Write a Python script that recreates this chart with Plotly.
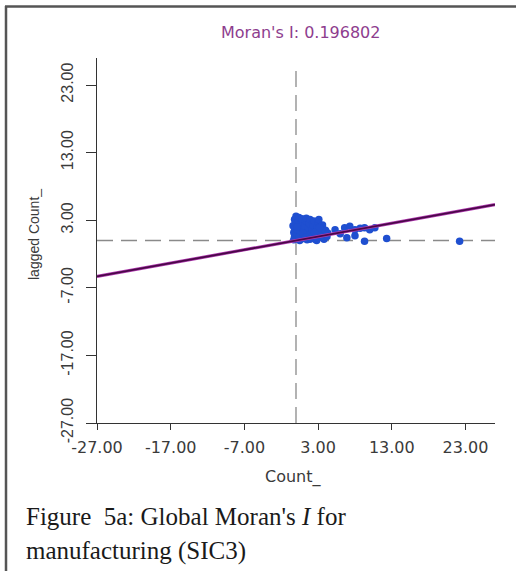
import plotly.graph_objects as go

# ---- data ----
moran_i = 0.196802
x_ticks = [-27, -17, -7, 3, 13, 23]
y_ticks = [-27, -17, -7, 3, 13, 23]
axis_range = [-27, 27]

cluster_x = [-0.3, -0.2, -0.3, -0.2, -0.1, -0.2, 0.0, 0.1, 0.2, 0.2, 0.3, 0.3, 0.4, 0.5, 0.6, 0.6,
             0.7, 0.8, 0.8, 1.0, 1.0, 1.1, 1.2, 1.3, 1.4, 1.5, 1.6, 1.6, 1.7, 1.8, 1.9, 2.0, 2.1,
             2.2, 2.3, 2.4, 2.6, 2.7, 2.8, 2.9, 3.0, 3.1, 3.3, 3.4, 3.5, 3.6, 3.8, 3.9, 4.0, 4.2,
             4.3, 0.4, 0.9, 1.3, 2.5, 3.2, -0.4, 0.1, 1.9, 2.8]
cluster_y = [0.1, 0.6, 1.2, 1.8, 2.5, 3.1, 3.6, 0.3, 0.9, 1.5, 2.1, 2.8, 3.4, 0.0, 0.6, 1.2,
             1.9, 2.6, 3.2, 0.3, 0.9, 1.5, 2.2, 2.9, 3.3, 0.1, 0.7, 1.3, 1.9, 2.5, 3.1, 0.4, 1.0,
             1.6, 2.3, 2.9, 0.2, 0.8, 1.4, 2.0, 2.7, 3.1, 0.5, 1.1, 1.7, 2.3, 0.2, 0.9, 1.5, 0.6,
             1.1, 0.5, 1.1, 0.5, 1.2, 1.9, 2.2, 2.0, 0.2, 0.0]
outer_x = [5.3, 6.0, 6.6, 7.3, 8.0, 8.7, 9.3, 10.0, 10.7, 6.9, 8.0, 9.3, 12.3, 22.2]
outer_y = [1.6, 1.0, 1.9, 2.1, 1.6, 1.8, 1.9, 1.6, 1.9, 0.4, 0.7, -0.1, 0.3, -0.1]

xs = cluster_x + outer_x
ys = cluster_y + outer_y

# plot-area geometry (pixels) used to place paper-referenced text
L, R, T, B = 97, 495, 58, 423
W, H = R - L, B - T


def px(x):
    return (x - L) / W


def py(y):
    return (B - y) / H


fig = go.Figure()

# mean reference lines
fig.add_trace(go.Scatter(x=[0, 0], y=[-27, 25.8], mode="lines",
                         line=dict(color="#8a8a8a", width=1.3, dash="16px,8px"),
                         hoverinfo="skip", showlegend=False))
fig.add_trace(go.Scatter(x=[-27, 27], y=[0, 0], mode="lines",
                         line=dict(color="#8a8a8a", width=1.3, dash="16px,8px"),
                         hoverinfo="skip", showlegend=False))

# points
fig.add_trace(go.Scatter(x=xs, y=ys, mode="markers",
                         marker=dict(color="#1f4fd0", size=7.5, line=dict(width=0)),
                         showlegend=False))

# regression line (slope = Moran's I)
lx = [-27, 27]
ly = [moran_i * v for v in lx]
fig.add_trace(go.Scatter(x=lx, y=ly, mode="lines",
                         line=dict(color="#b03ab0", width=3.2),
                         hoverinfo="skip", showlegend=False))
fig.add_trace(go.Scatter(x=lx, y=ly, mode="lines",
                         line=dict(color="#4a0848", width=1.8),
                         hoverinfo="skip", showlegend=False))

arial = "Arial, Liberation Sans, sans-serif"
wide = "DejaVu Sans, Verdana, sans-serif"
serif = "Liberation Serif, Times New Roman, serif"

fig.update_layout(
    width=516, height=571,
    margin=dict(l=L, r=516 - R, t=T, b=571 - B),
    paper_bgcolor="white", plot_bgcolor="white",
    xaxis=dict(range=axis_range, tickvals=x_ticks,
               ticktext=[f"{v:.2f}" for v in x_ticks],
               showgrid=False, zeroline=False, showline=True,
               linecolor="#333", linewidth=1.3,
               ticks="outside", ticklen=6, tickcolor="#333",
               tickfont=dict(family=wide, size=16, color="#3a3a3a"),
               automargin=False, ticklabelstandoff=4),
    yaxis=dict(range=axis_range, tickvals=y_ticks,
               ticktext=[f"{v:.2f}" for v in y_ticks],
               showgrid=False, zeroline=False, showline=True,
               linecolor="#333", linewidth=1.3,
               ticks="outside", ticklen=10, tickcolor="#333",
               tickangle=-90, tickfont=dict(family=arial, size=16, color="#3a3a3a"),
               automargin=False, ticklabelstandoff=6),
    shapes=[
        dict(type="line", xref="paper", yref="paper", layer="above",
             x0=px(5), x1=px(516), y0=py(6.5), y1=py(6.5),
             line=dict(color="#555555", width=2.5)),
        dict(type="line", xref="paper", yref="paper", layer="above",
             x0=px(6), x1=px(6), y0=py(6), y1=py(575),
             line=dict(color="#555555", width=2.5)),
    ],
    annotations=[
        dict(text=f"Moran's I: {moran_i:.6f}", xref="paper", yref="paper",
             x=px(300), y=py(33), showarrow=False,
             xanchor="center", yanchor="middle",
             font=dict(family=wide, size=16, color="#8e3d8e")),
        dict(text="Count_", xref="paper", yref="paper",
             x=px(293), y=py(477), showarrow=False,
             xanchor="center", yanchor="middle",
             font=dict(family=wide, size=16, color="#3a3a3a")),
        dict(text="lagged Count_", xref="paper", yref="paper",
             x=px(34), y=py(235), showarrow=False, textangle=-90,
             xanchor="center", yanchor="middle",
             font=dict(family=arial, size=14, color="#3a3a3a")),
        dict(text="Figure  5a: Global Moran's <i>I</i> for",
             xref="paper", yref="paper",
             x=px(24), y=py(516), showarrow=False,
             xanchor="left", yanchor="middle", align="left",
             font=dict(family=serif, size=25, color="#1a1a1a")),
        dict(text="manufacturing (SIC3)",
             xref="paper", yref="paper",
             x=px(24), y=py(551), showarrow=False,
             xanchor="left", yanchor="middle", align="left",
             font=dict(family=serif, size=25, color="#1a1a1a")),
    ],
)

fig.write_html("out.html", config={"displayModeBar": False},
               post_script="document.body.style.margin='0';")
